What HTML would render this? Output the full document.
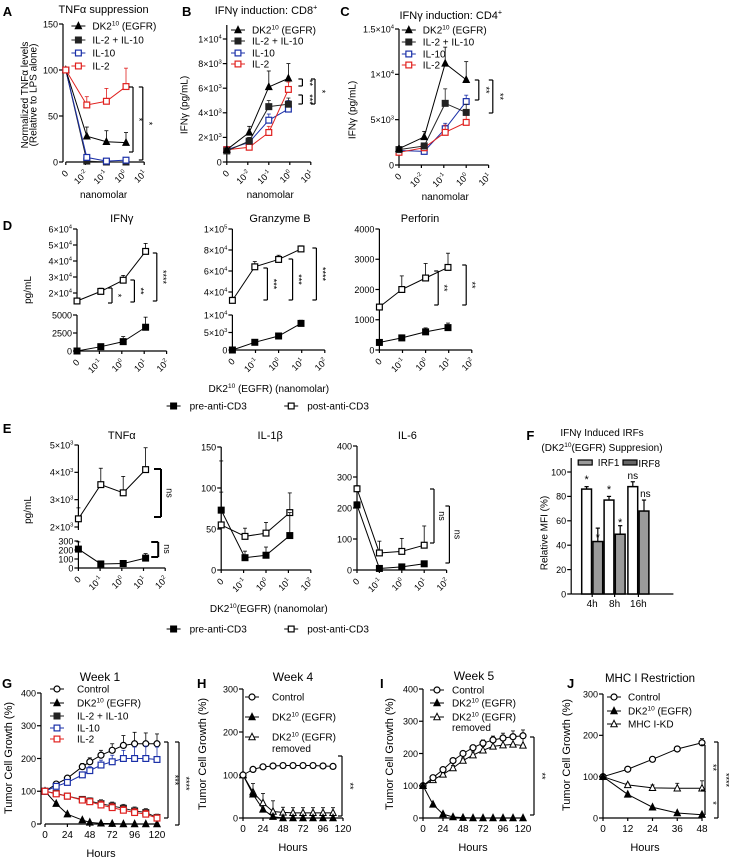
<!DOCTYPE html>
<html><head><meta charset="utf-8">
<style>
html,body{margin:0;padding:0;background:#fff;}
svg{display:block;font-family:"Liberation Sans",Arial,sans-serif;}
</style></head>
<body>
<svg id="fig" width="729" height="860" viewBox="0 0 729 860" xmlns="http://www.w3.org/2000/svg"></svg>
<script>
// ---------- DATA ----------
const logTicks2=["0","10^{-2}","10^{-1}","10^{0}","10^{1}"];
const logTicks1=["0","10^{-1}","10^{0}","10^{1}","10^{2}"];
const aDK=[100,28,22,21], aDKe=[0,10,12,11];
const aIL210=[100,1,0,0];
const aIL10=[100,5,1,2];
const aIL2=[100,62,66,82], aIL2e=[0,9,14,20];
const bDK=[1000,2400,6100,6800], bDKe=[0,500,1300,1200];
const bIL210=[900,1700,4500,4700], bIL210e=[0,300,500,500];
const bIL10=[1000,1600,3400,4300], bIL10e=[0,300,500,700];
const bIL2=[1000,1200,2400,5900], bIL2e=[0,200,500,600];
const cDK=[1800,3100,11200,9400], cDKe=[0,600,1800,2000];
const cIL210=[1700,2100,6800,5800], cIL210e=[0,300,1600,900];
const cIL10=[1600,1500,4000,7000], cIL10e=[0,200,600,700];
const cIL2=[1400,1900,3600,4700], cIL2e=[0,300,800,1000];
const dIfnPost=[15000,21000,28000,46000], dIfnPostE=[1000,2000,3000,5000];
const dIfnPre=[0,600,1300,3300], dIfnPreE=[0,200,700,1400];
const dGzPost=[32000,64000,71000,81000], dGzPostE=[3000,5000,4000,3000];
const dGzPre=[0,2200,4000,7600], dGzPreE=[0,300,300,900];
const dPfPost=[1420,2000,2380,2730], dPfPostE=[100,450,480,470];
const dPfPre=[250,400,600,740], dPfPreE=[80,100,130,150];
const eTnfPost=[2300,3550,3250,4100], eTnfPostE=[400,600,600,800];
const eTnfPre=[210,45,50,110], eTnfPreE=[80,20,15,50];
const eIl1Post=[55,41,45,70], eIl1PostE=[40,10,13,24];
const eIl1Pre=[73,15,18,42], eIl1PreE=[60,8,10,28];
const eIl6Post=[262,55,60,80], eIl6PostE=[10,38,42,62];
const eIl6Pre=[210,5,10,20], eIl6PreE=[10,3,5,8];
const fGroups=["4h","8h","16h"];
const fIRF1=[86,77,88], fIRF1e=[2,3,4];
const fIRF8=[43,49,68], fIRF8e=[11,7,9];
const gHours=[0,12,24,40,48,60,72,84,96,108,120];
const gControl=[100,122,140,175,190,210,225,240,245,245,245];
const gControlE=[0,6,6,10,12,15,20,30,35,33,30];
const gIL10=[100,115,127,150,163,180,190,200,200,200,197];
const gIL10E=[0,5,6,8,12,15,20,25,35,38,38];
const gDK=[100,62,30,12,5,2,1,0,0,0,0];
const gIL210=[100,93,85,75,70,62,55,48,40,35,20];
const gIL210E=[0,5,6,8,10,12,12,12,12,12,10];
const gIL2=[100,92,85,73,68,58,50,42,35,30,18];
const gIL2E=[0,5,6,8,10,12,12,12,12,12,10];
const hHours=[0,12,24,36,48,60,72,84,96,108];
const hControl=[100,113,119,121,122,122,122,122,121,120];
const hDK=[100,55,20,3,0,0,0,0,0,0];
const hRemoved=[100,60,35,15,13,12,12,12,12,12];
const hRemovedE=[0,20,22,25,12,12,12,12,12,12];
const iHours=[0,12,24,36,48,60,72,84,96,108,120];
const iControl=[100,125,150,178,200,218,232,242,248,252,255];
const iControlE=[0,5,6,6,8,8,10,12,15,18,18];
const iRemoved=[100,118,135,155,178,195,210,222,226,228,225];
const iRemovedE=[0,5,6,8,8,10,12,15,18,20,22];
const iDK=[100,42,12,3,1,0,0,0,0,0,0];
const jHours=[0,12,24,36,48];
const jControl=[100,118,142,167,182], jControlE=[0,4,5,6,10];
const jDK=[100,57,26,12,8];
const jMHC=[100,80,73,72,72], jMHCE=[0,4,7,12,18];
const hourTicksLong=[0,24,48,72,96,120];
const hourTicksJ=[0,12,24,36,48];

// ---------- HELPERS ----------
const NS="http://www.w3.org/2000/svg";
const S=document.getElementById('fig');
let K=1.4;
const SX=v=>v*K;
function el(tag,a,parent){const e=document.createElementNS(NS,tag);for(const k in a)e.setAttribute(k,a[k]);(parent||S).appendChild(e);return e;}
function lin(v0,p0,v1,p1){return v=>p0+(v-v0)*(p1-p0)/(v1-v0);}
function txt(x,y,str,size,name,opt){
  opt=opt||{};x=SX(x);
  const t=el('text',{x:x,y:y,'font-size':size,'text-anchor':opt.anchor||'start',fill:opt.fill||'#000','font-weight':opt.bold?'bold':'normal'});
  if(opt.rot!==undefined)t.setAttribute('transform','rotate('+opt.rot+' '+x+' '+y+')');
  
  
  const parts=str.split(/(\^\{[^}]*\})/);
  let sup=false;
  parts.forEach(p=>{
    if(!p)return;
    const ts=el('tspan',{},t);
    if(p.startsWith('^{')){ts.textContent=p.slice(2,-1);ts.setAttribute('font-size',size*0.65);ts.setAttribute('dy',-size*0.4);sup=true;}
    else{ts.textContent=p;if(sup){ts.setAttribute('dy',size*0.4);sup=false;}}
  });
  return t;
}
function line(x1,y1,x2,y2,name,col,w){
  const l=el('line',{x1:SX(x1),y1:y1,x2:SX(x2),y2:y2,stroke:col||'#000','stroke-width':w||1.2});
  
  
  return l;
}
function marker(x,y,type,col,name){
  let m;const r=3.2;x=SX(x);
  if(type==='tri'||type==='otri')m=el('polygon',{points:(x)+','+(y-r-0.5)+' '+(x-r)+','+(y+r-0.5)+' '+(x+r)+','+(y+r-0.5),fill:type==='tri'?col:'#fff',stroke:col,'stroke-width':1});
  else if(type==='sq'||type==='osq')m=el('rect',{x:x-r+0.3,y:y-r+0.3,width:2*r-0.6,height:2*r-0.6,fill:type==='sq'?col:'#fff',stroke:col,'stroke-width':1.2});
  else m=el('circle',{cx:x,cy:y,r:r-0.2,fill:'#fff',stroke:col,'stroke-width':1.2});
  
  
  return m;
}
function series(xs,vals,errs,ys,col,type,name){
  const pts=xs.map((x,i)=>SX(x)+','+ys(vals[i])).join(' ');
  const pl=el('polyline',{points:pts,fill:'none',stroke:col,'stroke-width':1});
  
  
  const c=2/K;
  if(errs)xs.forEach((x,i)=>{
    if(!errs[i])return;
    const y1=ys(vals[i]+errs[i]);
    line(x,ys(vals[i]),x,y1,name+'-error-bar',col,0.8);
    line(x-c,y1,x+c,y1,name+'-error-cap',col,0.8);
  });
  xs.forEach((x,i)=>marker(x,ys(vals[i]),type,col,name+'-point'));
}
function yAxis(x,ticks,labels,ys,top,bot,name){
  const t=4/K;
  line(x,top,x,bot,name+'-line');
  ticks.forEach((v,i)=>{const y=ys(v);line(x-t,y,x,y,name+'-tick');txt(x-t-1/K,y+3.3,labels[i],9,name+'-tick-label',{anchor:'end'});});
}
function xAxisLog(x0,dx,y,labels,name){
  line(x0,y,x0+dx*(labels.length-1),y,name+'-line');
  labels.forEach((l,i)=>{const x=x0+i*dx;line(x,y,x,y+3,name+'-tick');txt(x+3/K,y+12,l,9,name+'-tick-label',{anchor:'end',rot:-45});});
}
function xAxisLin(xs,ticks,y,name){
  line(xs(ticks[0]),y,xs(ticks[ticks.length-1]),y,name+'-line');
  ticks.forEach(t=>{const x=xs(t);line(x,y,x,y+3,name+'-tick');txt(x,y+14,String(t),10,name+'-tick-label',{anchor:'middle'});});
}
function bracket(x,y1,y2,label,name,lx){
  const t=4/K;
  line(x-t,y1,x,y1,name);line(x,y1,x,y2,name);line(x-t,y2,x,y2,name);
  txt(x+(lx||3)/K,(y1+y2)/2,label,9,name+'-label',{anchor:'middle',rot:90});
}
function legend(x,y,type,col,label,name,off){
  const h=7/K;
  line(x-h,y,x+h,y,name+'-swatch-line',col,1);
  marker(x,y,type,col,name+'-swatch');
  txt(x+(off||14)/K,y+3.5,label,10,name+'-label');
}

// ---------- PANEL A ----------
txt(2,16,'A',13,'panel-a-label',{bold:true});
txt(74,13,'TNFα suppression',11,'panel-a-title',{anchor:'middle'});
txt(20,95,'Normalized TNFα levels',10,'panel-a-y-title',{anchor:'middle',rot:-90});
txt(26,95,'(Relative to LPS alone)',10,'panel-a-y-title-2',{anchor:'middle',rot:-90});
{const ys=lin(0,162,150,24);const xs=[47,62,76,90];
yAxis(45,[0,50,100,150],["0","50","100","150"],ys,24,162,'panel-a-y-axis');
xAxisLog(47,14,162,logTicks2,'panel-a-x-axis');
txt(74,198,'nanomolar',10,'panel-a-x-title',{anchor:'middle'});
series(xs,aIL210,null,ys,'#222','sq','panel-a-il2-il10');
series(xs,aIL10,null,ys,'#1a2fa8','osq','panel-a-il10');
series(xs,aDK,aDKe,ys,'#000','tri','panel-a-dk2');
series(xs,aIL2,aIL2e,ys,'#e0201e','osq','panel-a-il2');
bracket(95,87,152,'*','panel-a-sig-1');bracket(102,87,160,'*','panel-a-sig-2');
legend(56,26,'tri','#000','DK2^{10} (EGFR)','panel-a-legend-dk2');
legend(56,40,'sq','#222','IL-2 + IL-10','panel-a-legend-il2-il10');
legend(56,53,'osq','#1a2fa8','IL-10','panel-a-legend-il10');
legend(56,66,'osq','#e0201e','IL-2','panel-a-legend-il2');}

// ---------- PANEL B ----------
txt(130,16,'B',13,'panel-b-label',{bold:true});
txt(190,14,'IFNγ induction: CD8^{+}',11,'panel-b-title',{anchor:'middle'});
txt(134,105,'IFNγ (pg/mL)',10,'panel-b-y-title',{anchor:'middle',rot:-90});
{const ys=lin(0,162,10000,39);const xs=[162,178,192,206];
yAxis(162,[0,2000,4000,6000,8000,10000],["0","2×10^{3}","4×10^{3}","6×10^{3}","8×10^{3}","1×10^{4}"],ys,25,162,'panel-b-y-axis');
xAxisLog(162,15,162,logTicks2,'panel-b-x-axis');
txt(193,198,'nanomolar',10,'panel-b-x-title',{anchor:'middle'});
series(xs,bIL10,bIL10e,ys,'#1a2fa8','osq','panel-b-il10');
series(xs,bIL2,bIL2e,ys,'#e0201e','osq','panel-b-il2');
series(xs,bIL210,bIL210e,ys,'#222','sq','panel-b-il2-il10');
series(xs,bDK,bDKe,ys,'#000','tri','panel-b-dk2');
bracket(216,79,86,'**','panel-b-sig-1',4);bracket(216,95,104,'***','panel-b-sig-2',4);bracket(225,79,104,'*','panel-b-sig-3',4);
legend(170,30,'tri','#000','DK2^{10} (EGFR)','panel-b-legend-dk2');
legend(170,41,'sq','#222','IL-2 + IL-10','panel-b-legend-il2-il10');
legend(170,53,'osq','#1a2fa8','IL-10','panel-b-legend-il10');
legend(170,64,'osq','#e0201e','IL-2','panel-b-legend-il2');}

// ---------- PANEL C ----------
txt(243,16,'C',13,'panel-c-label',{bold:true});
txt(322,19,'IFNγ induction: CD4^{+}',11,'panel-c-title',{anchor:'middle'});
txt(254,110,'IFNγ (pg/mL)',10,'panel-c-y-title',{anchor:'middle',rot:-90});
{const ys=lin(0,165,15000,29);const xs=[285,303,318,333];
yAxis(285,[0,5000,10000,15000],["0","5×10^{3}","1×10^{4}","1.5×10^{4}"],ys,29,165,'panel-c-y-axis');
xAxisLog(285,16,165,logTicks2,'panel-c-x-axis');
txt(318,200,'nanomolar',10,'panel-c-x-title',{anchor:'middle'});
series(xs,cIL10,cIL10e,ys,'#1a2fa8','osq','panel-c-il10');
series(xs,cIL2,cIL2e,ys,'#e0201e','osq','panel-c-il2');
series(xs,cIL210,cIL210e,ys,'#222','sq','panel-c-il2-il10');
series(xs,cDK,cDKe,ys,'#000','tri','panel-c-dk2');
bracket(342,80,100,'**','panel-c-sig-1',4);bracket(352,80,113,'**','panel-c-sig-2',4);
legend(292,30,'tri','#000','DK2^{10} (EGFR)','panel-c-legend-dk2');
legend(292,42,'sq','#222','IL-2 + IL-10','panel-c-legend-il2-il10');
legend(292,54,'osq','#1a2fa8','IL-10','panel-c-legend-il10');
legend(292,65,'osq','#e0201e','IL-2','panel-c-legend-il2');}

// ---------- PANEL D ----------
txt(2,230,'D',13,'panel-d-label',{bold:true});
txt(22,290,'pg/mL',10,'panel-d-y-title',{anchor:'middle',rot:-90});
{
 txt(87,222,'IFNγ',11,'panel-d-ifng-title',{anchor:'middle'});
 const yt=lin(20000,293,60000,229), yb=lin(0,351,5000,315); const xs=[55,72,88,104];
 yAxis(55,[20000,30000,40000,50000,60000],["2×10^{4}","3×10^{4}","4×10^{4}","5×10^{4}","6×10^{4}"],yt,229,300,'panel-d-ifng-y-axis-top');
 yAxis(55,[0,2500,5000],["0","2500","5000"],yb,315,351,'panel-d-ifng-y-axis-bottom');
 xAxisLog(55,16,351,logTicks1,'panel-d-ifng-x-axis');
 series(xs,dIfnPost,dIfnPostE,yt,'#000','osq','panel-d-ifng-post');
 series(xs,dIfnPre,dIfnPreE,yb,'#000','sq','panel-d-ifng-pre');
 bracket(80,288,303,'*','panel-d-ifng-sig-1');bracket(96,280,302,'**','panel-d-ifng-sig-2');bracket(112,253,301,'****','panel-d-ifng-sig-3');
 txt(200,222,'Granzyme B',11,'panel-d-gzmb-title',{anchor:'middle'});
 const gt=lin(40000,292,100000,229), gb=lin(0,350,10000,315); const gx=[166,182,199,215];
 yAxis(166,[40000,60000,80000,100000],["4×10^{4}","6×10^{4}","8×10^{4}","1×10^{5}"],gt,229,300,'panel-d-gzmb-y-axis-top');
 yAxis(166,[0,5000,10000],["0","5×10^{3}","1×10^{4}"],gb,315,350,'panel-d-gzmb-y-axis-bottom');
 xAxisLog(166,16.5,350,logTicks1,'panel-d-gzmb-x-axis');
 series(gx,dGzPost,dGzPostE,gt,'#000','osq','panel-d-gzmb-post');
 series(gx,dGzPre,dGzPreE,gb,'#000','sq','panel-d-gzmb-pre');
 bracket(191,268,300,'***','panel-d-gzmb-sig-1');bracket(209,259,300,'***','panel-d-gzmb-sig-2');bracket(226,248,300,'****','panel-d-gzmb-sig-3');
 txt(300,222,'Perforin',11,'panel-d-perforin-title',{anchor:'middle'});
 const pf=lin(0,350,4000,229); const px=[271,287,304,320];
 yAxis(271,[0,1000,2000,3000,4000],["0","1000","2000","3000","4000"],pf,229,350,'panel-d-perforin-y-axis');
 xAxisLog(271,16.5,350,logTicks1,'panel-d-perforin-x-axis');
 series(px,dPfPost,dPfPostE,pf,'#000','osq','panel-d-perforin-post');
 series(px,dPfPre,dPfPreE,pf,'#000','sq','panel-d-perforin-pre');
 bracket(313,271,305,'**','panel-d-perforin-sig-1');bracket(333,265,305,'**','panel-d-perforin-sig-2');
 txt(192,392,'DK2^{10} (EGFR) (nanomolar)',10,'panel-d-x-title',{anchor:'middle'});
 legend(124,406,'sq','#000','pre-anti-CD3','panel-d-legend-pre',16);
 legend(208,406,'osq','#000','post-anti-CD3','panel-d-legend-post',16);
}

// ---------- PANEL E ----------
txt(2,433,'E',13,'panel-e-label',{bold:true});
txt(22,510,'pg/mL',10,'panel-e-y-title',{anchor:'middle',rot:-90});
{
 txt(87,439,'TNFα',11,'panel-e-tnfa-title',{anchor:'middle'});
 const yt=lin(2000,527,5000,445), yb=lin(0,568,300,541); const xs=[56,72,88,104];
 yAxis(56,[2000,3000,4000,5000],["2×10^{3}","3×10^{3}","4×10^{3}","5×10^{3}"],yt,445,530,'panel-e-tnfa-y-axis-top');
 yAxis(56,[0,100,200,300],["0","100","200","300"],yb,541,568,'panel-e-tnfa-y-axis-bottom');
 xAxisLog(56,15.5,568,logTicks1,'panel-e-tnfa-x-axis');
 series(xs,eTnfPost,eTnfPostE,yt,'#000','osq','panel-e-tnfa-post');
 series(xs,eTnfPre,eTnfPreE,yb,'#000','sq','panel-e-tnfa-pre');
 line(110,469,115,469,'panel-e-tnfa-sig-1',0,2);line(115,469,115,517,'panel-e-tnfa-sig-1',0,2);line(110,517,115,517,'panel-e-tnfa-sig-1',0,2);
 txt(119,493,'ns',9,'panel-e-tnfa-sig-1-label',{anchor:'middle',rot:90});
 line(108,542,113,542,'panel-e-tnfa-sig-2',0,2);line(113,542,113,557,'panel-e-tnfa-sig-2',0,2);line(108,557,113,557,'panel-e-tnfa-sig-2',0,2);
 txt(117,549,'ns',9,'panel-e-tnfa-sig-2-label',{anchor:'middle',rot:90});

 txt(193,439,'IL-1β',11,'panel-e-il1b-title',{anchor:'middle'});
 const y1=lin(0,570,150,447); const x1=[158,175,190,207];
 yAxis(158,[0,50,100,150],["0","50","100","150"],y1,447,570,'panel-e-il1b-y-axis');
 xAxisLog(158,16,570,logTicks1,'panel-e-il1b-x-axis');
 series(x1,eIl1Post,eIl1PostE,y1,'#000','osq','panel-e-il1b-post');
 series(x1,eIl1Pre,eIl1PreE,y1,'#000','sq','panel-e-il1b-pre');

 txt(291,439,'IL-6',11,'panel-e-il6-title',{anchor:'middle'});
 const y6=lin(0,570,400,446); const x6=[255,271,287,303];
 yAxis(255,[0,100,200,300,400],["0","100","200","300","400"],y6,446,570,'panel-e-il6-y-axis');
 xAxisLog(255,16,570,logTicks1,'panel-e-il6-x-axis');
 series(x6,eIl6Post,eIl6PostE,y6,'#000','osq','panel-e-il6-post');
 series(x6,eIl6Pre,eIl6PreE,y6,'#000','sq','panel-e-il6-pre');
 bracket(310,489,543,'ns','panel-e-il6-sig-1',5);bracket(321,506,563,'ns','panel-e-il6-sig-2',5);
 txt(192,612,'DK2^{10}(EGFR) (nanomolar)',10,'panel-e-x-title',{anchor:'middle'});
 legend(124,629,'sq','#000','pre-anti-CD3','panel-e-legend-pre',16);
 legend(208,629,'osq','#000','post-anti-CD3','panel-e-legend-post',16);
}

// ---------- PANEL F ----------
txt(376,440,'F',13,'panel-f-label',{bold:true});
txt(430,436,'IFNγ Induced IRFs',10,'panel-f-title',{anchor:'middle'});
txt(430,451,'(DK2^{10}(EGFR) Suppresion)',10,'panel-f-subtitle',{anchor:'middle'});
txt(391,533,'Relative MFI (%)',10,'panel-f-y-title',{anchor:'middle',rot:-90});
{const ys=lin(0,594,100,472);const gx=[423,439,456];
yAxis(408,[0,20,40,60,80,100],["0","20","40","60","80","100"],ys,458,594,'panel-f-y-axis');
line(408,594,481,594,'panel-f-x-axis-line');
fGroups.forEach((g,i)=>{
  line(gx[i],594,gx[i],597,'panel-f-x-tick');
  txt(gx[i],607,g,10,'panel-f-x-tick-label',{anchor:'middle'});
  const b1=el('rect',{x:SX(gx[i]-7.5),y:ys(fIRF1[i]),width:7*K,height:594-ys(fIRF1[i]),fill:'#fff',stroke:'#000','stroke-width':1.5});
  
  
  const b2=el('rect',{x:SX(gx[i]+0.5),y:ys(fIRF8[i]),width:7*K,height:594-ys(fIRF8[i]),fill:'#9a9a9a',stroke:'#000','stroke-width':1.5});
  
  
  const e1=ys(fIRF1[i]+fIRF1e[i]);line(gx[i]-4,ys(fIRF1[i]),gx[i]-4,e1,'panel-f-irf1-error');line(gx[i]-5.5,e1,gx[i]-2.5,e1,'panel-f-irf1-error-cap');
  const e2=ys(fIRF8[i]+fIRF8e[i]);line(gx[i]+4,ys(fIRF8[i]),gx[i]+4,e2,'panel-f-irf8-error');line(gx[i]+2.5,e2,gx[i]+5.5,e2,'panel-f-irf8-error-cap');
});
txt(419,483,'*',11,'panel-f-sig',{anchor:'middle'});txt(427,541,'*',11,'panel-f-sig',{anchor:'middle'});
txt(435,493,'*',11,'panel-f-sig',{anchor:'middle'});txt(443,526,'*',11,'panel-f-sig',{anchor:'middle'});
txt(452,479,'ns',10,'panel-f-sig',{anchor:'middle'});txt(461,497,'ns',10,'panel-f-sig',{anchor:'middle'});
const l1=el('rect',{x:SX(413),y:460,width:10*K,height:5,fill:'#9a9a9a',stroke:'#000','stroke-width':1.2});


txt(427,466,'IRF1',10,'panel-f-legend-irf1-label');
const l2=el('rect',{x:SX(445),y:460,width:10*K,height:5,fill:'#666',stroke:'#000','stroke-width':1.2});


txt(456,467,'IRF8',10,'panel-f-legend-irf8-label');}

// ---------- BOTTOM ROW (unscaled) ----------
K=1;
// PANEL G
txt(2,688,'G',13,'panel-g-label',{bold:true});
txt(100,681,'Week 1',12,'panel-g-title',{anchor:'middle'});
txt(12,758,'Tumor Cell Growth (%)',11,'panel-g-y-title',{anchor:'middle',rot:-90});
{const ys=lin(0,824,400,693);const xs=lin(0,45,120,157);
yAxis(41,[0,100,200,300,400],["0","100","200","300","400"],ys,693,824,'panel-g-y-axis');
xAxisLin(xs,hourTicksLong,824,'panel-g-x-axis');
txt(101,857,'Hours',11,'panel-g-x-title',{anchor:'middle'});
const hx=gHours.map(h=>xs(h));
series(hx,gControl,gControlE,ys,'#000','oc','panel-g-control');
series(hx,gIL10,gIL10E,ys,'#1a2fa8','osq','panel-g-il10');
series(hx,gDK,null,ys,'#000','tri','panel-g-dk2');
series(hx,gIL210,gIL210E,ys,'#222','sq','panel-g-il2-il10');
series(hx,gIL2,gIL2E,ys,'#e0201e','osq','panel-g-il2');
bracket(168,742,818,'***','panel-g-sig-1',4);bracket(179,742,825,'****','panel-g-sig-2',4);
legend(57,689,'oc','#000','Control','panel-g-legend-control',20);
legend(57,703,'tri','#000','DK2^{10} (EGFR)','panel-g-legend-dk2',20);
legend(57,716,'sq','#222','IL-2 + IL-10','panel-g-legend-il2-il10',20);
legend(57,728,'osq','#1a2fa8','IL-10','panel-g-legend-il10',20);
legend(57,739,'osq','#e0201e','IL-2','panel-g-legend-il2',20);}

// PANEL H
txt(197,688,'H',13,'panel-h-label',{bold:true});
txt(293,681,'Week 4',12,'panel-h-title',{anchor:'middle'});
txt(206,754,'Tumor Cell Growth (%)',11,'panel-h-y-title',{anchor:'middle',rot:-90});
{const ys=lin(0,818,300,689);const xs=lin(0,243,120,343);
yAxis(243,[0,100,200,300],["0","100","200","300"],ys,689,818,'panel-h-y-axis');
xAxisLin(xs,hourTicksLong,818,'panel-h-x-axis');
txt(293,851,'Hours',11,'panel-h-x-title',{anchor:'middle'});
const hx=hHours.map(h=>xs(h));
series(hx,hRemoved,hRemovedE,ys,'#000','otri','panel-h-removed');
series(hx,hDK,null,ys,'#000','tri','panel-h-dk2');
series(hx,hControl,null,ys,'#000','oc','panel-h-control');
bracket(342,756,816,'**','panel-h-sig',5);
legend(252,697,'oc','#000','Control','panel-h-legend-control',20);
legend(252,717,'tri','#000','DK2^{10} (EGFR)','panel-h-legend-dk2',20);
legend(252,737,'otri','#000','DK2^{10} (EGFR)','panel-h-legend-removed',20);
txt(272,752,'removed',10,'panel-h-legend-removed-2');}

// PANEL I
txt(380,688,'I',13,'panel-i-label',{bold:true});
txt(474,680,'Week 5',12,'panel-i-title',{anchor:'middle'});
txt(393,754,'Tumor Cell Growth (%)',11,'panel-i-y-title',{anchor:'middle',rot:-90});
{const ys=lin(0,818,400,689);const xs=lin(0,423,120,523);
yAxis(423,[0,100,200,300,400],["0","100","200","300","400"],ys,689,818,'panel-i-y-axis');
xAxisLin(xs,hourTicksLong,818,'panel-i-x-axis');
txt(473,851,'Hours',11,'panel-i-x-title',{anchor:'middle'});
const hx=iHours.map(h=>xs(h));
series(hx,iRemoved,iRemovedE,ys,'#000','otri','panel-i-removed');
series(hx,iControl,iControlE,ys,'#000','oc','panel-i-control');
series(hx,iDK,null,ys,'#000','tri','panel-i-dk2');
bracket(534,737,815,'**','panel-i-sig',5);
legend(437,690,'oc','#000','Control','panel-i-legend-control',15);
legend(437,703,'tri','#000','DK2^{10} (EGFR)','panel-i-legend-dk2',15);
legend(437,717,'otri','#000','DK2^{10} (EGFR)','panel-i-legend-removed',15);
txt(452,731,'removed',10,'panel-i-legend-removed-2');}

// PANEL J
txt(567,688,'J',13,'panel-j-label',{bold:true});
txt(650,682,'MHC I Restriction',11.5,'panel-j-title',{anchor:'middle'});
txt(570,755,'Tumor Cell Growth (%)',11,'panel-j-y-title',{anchor:'middle',rot:-90});
{const ys=lin(0,818,300,694);const xs=lin(0,603,48,702);
yAxis(603,[0,100,200,300],["0","100","200","300"],ys,694,818,'panel-j-y-axis');
xAxisLin(xs,hourTicksJ,818,'panel-j-x-axis');
txt(645,851,'Hours',11,'panel-j-x-title',{anchor:'middle'});
const hx=jHours.map(h=>xs(h));
series(hx,jMHC,jMHCE,ys,'#000','otri','panel-j-mhc-kd');
series(hx,jControl,jControlE,ys,'#000','oc','panel-j-control');
series(hx,jDK,null,ys,'#000','tri','panel-j-dk2');
bracket(705,745,790,'**','panel-j-sig-1',5);bracket(705,791,815,'*','panel-j-sig-2',5);bracket(718,742,818,'****','panel-j-sig-3',5);
legend(614,697,'oc','#000','Control','panel-j-legend-control',14);
legend(614,711,'tri','#000','DK2^{10} (EGFR)','panel-j-legend-dk2',14);
legend(614,724,'otri','#000','MHC I-KD','panel-j-legend-mhc-kd',14);}
</script>
</body></html>
